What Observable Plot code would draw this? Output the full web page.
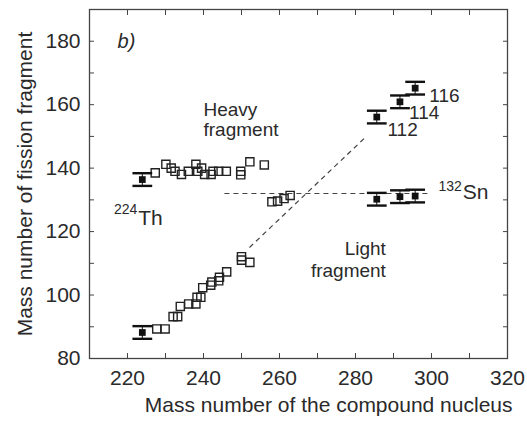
<!DOCTYPE html>
<html><head><meta charset="utf-8">
<script src="https://cdn.jsdelivr.net/npm/d3@7"></script>
<script src="https://cdn.jsdelivr.net/npm/@observablehq/plot@0.6"></script>
<style>body{margin:0;background:#fff}</style>
</head><body><div id="chart"></div>
<script>
// Open squares: heavy-fragment branch
const heavyX = [227.3, 230.1, 231.5, 232.5, 234.2, 236.0, 238.0, 238.5, 239.5, 240.3, 242.0, 242.5, 244.0, 246.0, 249.8, 249.8, 252.2, 256.0];
const heavyY = [138.5, 141.2, 140.0, 139.0, 138.0, 139.0, 141.2, 139.0, 140.0, 138.0, 138.0, 139.0, 139.0, 139.0, 139.0, 137.9, 142.0, 141.0];
// Open squares: symmetric region (~132)
const symX = [258.0, 259.5, 261.2, 262.8];
const symY = [129.4, 129.6, 130.4, 131.4];
// Open squares: light-fragment branch
const lightX = [227.7, 229.9, 232.0, 233.2, 233.9, 236.1, 238.0, 238.3, 239.3, 239.8, 241.9, 242.2, 244.0, 244.2, 246.1, 250.0, 250.0, 252.2];
const lightY = [89.3, 89.3, 93.2, 93.2, 96.4, 97.2, 97.2, 99.3, 99.3, 102.3, 103.1, 104.1, 104.5, 105.6, 107.3, 112.1, 111.0, 110.3];
// Filled points with error bars (224Th, 112, 114, 116)
const errX = [223.9, 223.9, 285.6, 285.6, 291.7, 291.7, 295.7, 295.7];
const errY = [136.4, 88.2, 156.1, 130.2, 160.9, 131.0, 165.2, 131.2];
const errHalf = [2, 2, 2, 2, 2, 2, 2, 2];
// Dashed guide lines
const guideX1 = [245.5, 252.1];
const guideY1 = [132.0, 115.0];
const guideX2 = [299.5, 282.5];
const guideY2 = [132.0, 149.6];
// Annotation labels
const annText = ["Heavy", "fragment", "112", "114", "116"];
const annX    = [240.0, 240.0, 288.4, 294.1, 299.4];
const annY    = [158.5, 152.2, 152.2, 157.3, 162.7];
const rightText = ["Light", "fragment"];
const rightX = [288.0, 288.0];
const rightY = [114.5, 107.5];
const nucText = ["Th", "Sn"];
const nucX = [222.8, 308.2];
const nucY = [124.2, 132.5];
const supText = ["224", "132"];
const supX = [222.6, 308.0];
const supY = [126.9, 134.2];
const panelLabel = ["b)"];
const panelX = [217.4];
const panelY = [180];
// Axis ticks
const xMinor = d3.range(220, 320, 10);
const xLabels = [220, 240, 260, 280, 300, 320];
const yMinor = d3.range(90, 190, 10);
const yLabels = [80, 100, 120, 140, 160, 180];
const xTitle = "Mass number of the compound nucleus";
const yTitle = "Mass number of fission fragment";

const heavy = heavyX.map((x, i) => ({x, y: heavyY[i]}));
const sym = symX.map((x, i) => ({x, y: symY[i]}));
const light = lightX.map((x, i) => ({x, y: lightY[i]}));
const errs = errX.map((x, i) => ({x, y: errY[i], lo: errY[i] - errHalf[i], hi: errY[i] + errHalf[i]}));
const guides = guideX1.map((x1, i) => ({x1, y1: guideY1[i], x2: guideX2[i], y2: guideY2[i]}));
const ann = annText.map((t, i) => ({t, x: annX[i], y: annY[i]}));
const annR = rightText.map((t, i) => ({t, x: rightX[i], y: rightY[i]}));
const nucs = nucText.map((t, i) => ({t, x: nucX[i], y: nucY[i]}));
const sups = supText.map((t, i) => ({t, x: supX[i], y: supY[i]}));
const panel = panelLabel.map((t, i) => ({t, x: panelX[i], y: panelY[i]}));
const capW = 2.6;
const squares = heavy.concat(sym, light);
const ink = "#2a2a2a";

const chart = Plot.plot({
  width: 527, height: 428,
  marginLeft: 89, marginRight: 20, marginTop: 9, marginBottom: 70,
  style: {fontFamily: "Liberation Sans, Arial, sans-serif", fontSize: "21px", color: ink, background: "#fff"},
  x: {domain: [210, 320], label: null},
  y: {domain: [80, 190], label: null},
  marks: [
    Plot.frame({stroke: "#444", strokeWidth: 1.3}),
    Plot.axisX({ticks: xMinor, tickSize: -5, text: null, label: null, stroke: "#444"}),
    Plot.axisX({anchor: "top", ticks: xMinor, tickSize: -5, text: null, label: null, stroke: "#444"}),
    Plot.axisY({ticks: yMinor, tickSize: -5, text: null, label: null, stroke: "#444"}),
    Plot.axisY({anchor: "right", ticks: yMinor, tickSize: -5, text: null, label: null, stroke: "#444"}),
    Plot.axisX({ticks: xLabels, tickSize: 0, tickPadding: 12, label: null, fill: ink}),
    Plot.axisY({ticks: yLabels, tickSize: 0, tickPadding: 9, label: null, fill: ink}),
    Plot.text([xTitle], {text: d => d, frameAnchor: "bottom-right", textAnchor: "end", lineAnchor: "middle", dx: 5, dy: 47, fontSize: 21, fill: ink}),
    Plot.text([yTitle], {text: d => d, frameAnchor: "left", textAnchor: "middle", lineAnchor: "middle", rotate: -90, dx: -64, dy: 0, fontSize: 21, fill: ink}),
    Plot.link(guides, {x1: "x1", y1: "y1", x2: "x2", y2: "y2", stroke: "#444", strokeWidth: 1.2, strokeDasharray: "5,4"}),
    Plot.dot(squares, {x: "x", y: "y", symbol: "square", r: 4.6, stroke: "#222", strokeWidth: 1.4, fill: "none"}),
    Plot.ruleX(errs, {x: "x", y1: "lo", y2: "hi", stroke: "#111", strokeWidth: 1}),
    Plot.link(errs, {x1: d => d.x - capW, x2: d => d.x + capW, y1: "hi", y2: "hi", stroke: "#111", strokeWidth: 2.4}),
    Plot.link(errs, {x1: d => d.x - capW, x2: d => d.x + capW, y1: "lo", y2: "lo", stroke: "#111", strokeWidth: 2.4}),
    Plot.dot(errs, {x: "x", y: "y", symbol: "square", r: 3.8, fill: "#111", stroke: "none"}),
    Plot.text(ann, {x: "x", y: "y", text: "t", textAnchor: "start", fontSize: 19, fill: ink}),
    Plot.text(annR, {x: "x", y: "y", text: "t", textAnchor: "end", fontSize: 19, fill: ink}),
    Plot.text(nucs, {x: "x", y: "y", text: "t", textAnchor: "start", fontSize: 21, fill: ink}),
    Plot.text(sups, {x: "x", y: "y", text: "t", textAnchor: "end", fontSize: 14, fill: ink}),
    Plot.text(panel, {x: "x", y: "y", text: "t", textAnchor: "start", fontSize: 20, fontStyle: "italic", fill: ink})
  ]
});
document.getElementById("chart").appendChild(chart);
</script>
</body></html>
